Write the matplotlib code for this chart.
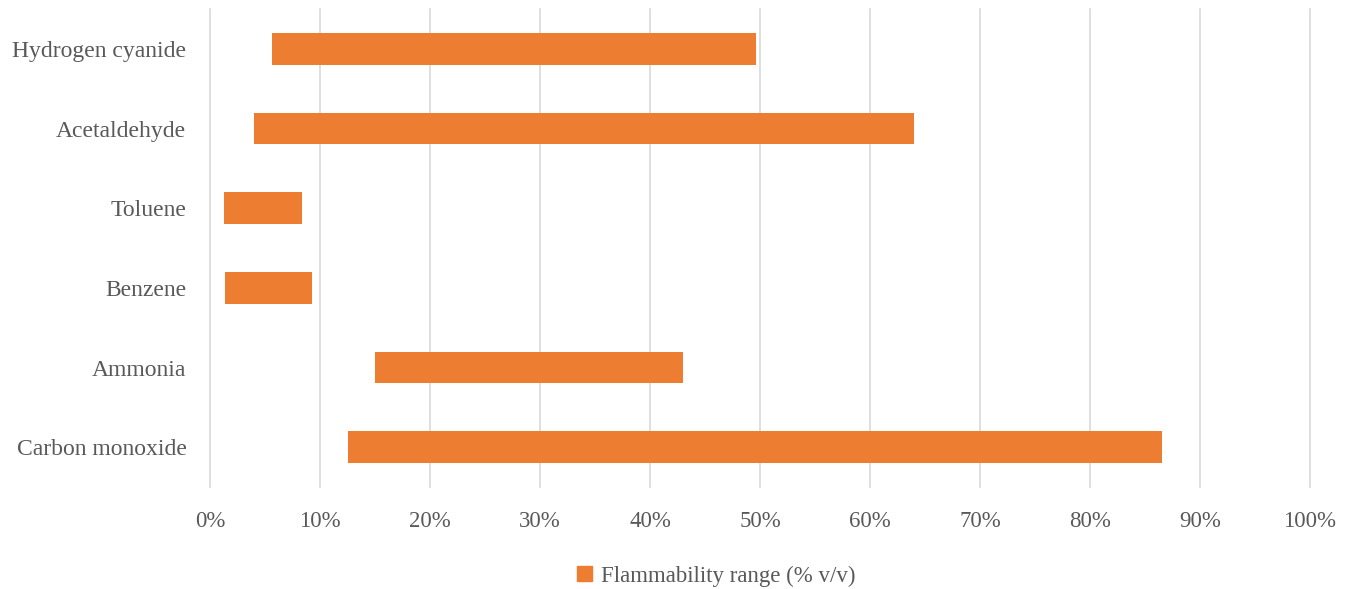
import matplotlib.pyplot as plt
from matplotlib.patches import Patch

# flammability limits, % v/v: lower limit and width of the range
gases = ["Carbon monoxide", "Ammonia", "Benzene", "Toluene", "Acetaldehyde", "Hydrogen cyanide"]
lower = [12.5, 15.0, 1.35, 1.27, 4.0, 5.6]
span = [74.0, 28.0, 7.9, 7.1, 60.0, 44.0]

plt.rcParams["font.family"] = ["Liberation Serif", "DejaVu Serif"]
txt = "#595959"
orange = "#ED7D31"

fig = plt.figure(figsize=(13.51, 5.89), dpi=100)
ax = fig.add_axes([210 / 1351, 1 - 487 / 589, 1100 / 1351, 478 / 589])

ax.barh(gases, span, left=lower, height=0.4, color=orange, zorder=3)

ax.set_xlim(0, 100)
ax.set_ylim(-0.5, len(gases) - 0.5)
ax.set_xticks(range(0, 101, 10))
ax.set_xticklabels([f"{v}%" for v in range(0, 101, 10)])
ax.grid(axis="x", color="#d9d9d9", lw=1.2, zorder=0)
for gl in ax.get_xgridlines():
    gl.set_clip_on(False)
for s in ax.spines.values():
    s.set_visible(False)
ax.tick_params(length=0, colors=txt, labelsize=16.5)
ax.tick_params(axis="y", pad=17, labelsize=17)
ax.tick_params(axis="x", pad=17)

fig.legend(handles=[Patch(color=orange, label="Flammability range (% v/v)")],
           loc="center", bbox_to_anchor=(0.53, 1 - 576 / 589), frameon=False,
           fontsize=16.5, labelcolor=txt, handlelength=0.65, handleheight=0.65, handletextpad=0.4)

fig.savefig("out.png", dpi=100)
